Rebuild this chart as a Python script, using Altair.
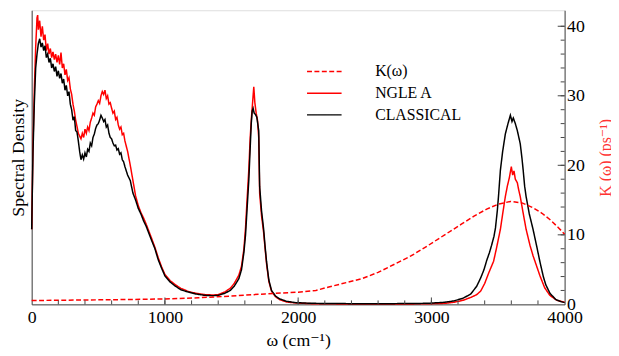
import altair as alt
import pandas as pd

# ---- data ----
omega_classical = [0, 10, 20, 30, 40, 50, 60, 70, 80, 90, 100, 110, 120, 130, 140, 150, 160, 170, 180, 190,
                   200, 210, 220, 230, 240, 250, 260, 270, 280, 290, 300, 310, 320, 330, 340, 350, 360, 370, 380, 390,
                   400, 410, 420, 430, 440, 450, 460, 470, 480, 490, 500, 510, 520, 530, 540, 550, 560, 570, 580, 590,
                   600, 610, 620, 630, 640, 650, 660, 670, 680, 690, 700, 720, 740, 760, 780, 800, 820, 840, 860, 880,
                   900, 925, 950, 975, 1000, 1040, 1080, 1120, 1170, 1230, 1300, 1360, 1400, 1450, 1490, 1520, 1555,
                   1575, 1593, 1605, 1615, 1630, 1640, 1648, 1655, 1662, 1670, 1680, 1690, 1704, 1711, 1725, 1741,
                   1752, 1763, 1780, 1800, 1830, 1860, 1911, 1980, 2100, 2400, 2700, 2970, 3100, 3170, 3240, 3296,
                   3340, 3370, 3395, 3415, 3435, 3452, 3470, 3481, 3495, 3504, 3518, 3535, 3555, 3575, 3593, 3605,
                   3615, 3630, 3645, 3667, 3680, 3689, 3700, 3711, 3735, 3763, 3790, 3815, 3840, 3859, 3890, 3933,
                   3970, 4000]
sd_classical = [10.8, 22, 29, 34, 36, 37.5, 38.2, 37, 37.6, 36.5, 37.2, 35.5, 36, 34.8, 35.4, 34, 34.6, 33.5, 34.2, 32.8,
                33.6, 32.5, 33.2, 31.8, 32.4, 30.8, 31.5, 30, 30.6, 28.8, 28, 26.5, 27, 25, 24.8, 23.5, 22, 20.8, 21.5, 20.9,
                21.8, 21.2, 22.3, 22, 23.2, 22.8, 24, 24.5, 25.3, 25.8, 26, 26.5, 27.2, 26.8, 26.3, 26.6, 25.5, 25.8, 24.6, 24,
                23.8, 23.2, 22.8, 22.9, 22.2, 22.4, 21.6, 21.8, 20.8, 20.5, 19.8, 18.6, 17.8, 16, 15, 13.8, 13, 12, 11.2, 10.2,
                9.2, 8, 6.4, 5.2, 4.1, 3.2, 2.6, 2.1, 1.8, 1.5, 1.3, 1.25, 1.3, 1.6, 2.0, 2.6, 3.7,
                5, 7.5, 10, 13.2, 18, 22.5, 26, 27.8, 28.2, 27.5, 27.3, 26.9, 25, 17, 13.5, 10.8,
                8.3, 6.1, 3.5, 2.0, 1.2, 0.8, 0.45, 0.25, 0.15, 0.1, 0.1, 0.15, 0.3, 0.5, 0.9, 1.5,
                2.6, 3.8, 5, 6.3, 7.4, 8.5, 9.8, 11, 13.5, 15.6, 19.3, 22, 24.5, 26, 27.2, 26.3,
                26.8, 26, 25, 23.1, 21, 19.3, 17, 15.5, 13, 10.8, 8.4, 6.1, 4, 2.8, 1.6, 0.7,
                0.4, 0.25]

omega_ngle = [0, 10, 20, 30, 40, 45, 50, 60, 70, 80, 90, 100, 110, 120, 130, 140, 150, 160, 170, 180, 190,
              200, 210, 220, 230, 240, 250, 260, 270, 280, 290, 300, 310, 320, 330, 340, 350, 360, 370, 380, 390,
              400, 410, 420, 430, 440, 450, 460, 470, 480, 490, 500, 510, 520, 530, 540, 550, 560, 570, 580, 590,
              600, 610, 620, 630, 640, 650, 660, 670, 680, 690, 700, 720, 740, 760, 780, 800, 820, 840, 860, 880,
              900, 925, 950, 975, 1000, 1040, 1080, 1120, 1170, 1230, 1300, 1360, 1400, 1450, 1490, 1520, 1555,
              1575, 1593, 1605, 1615, 1630, 1640, 1650, 1660, 1667, 1675, 1685, 1695, 1704, 1711, 1725, 1741,
              1752, 1763, 1780, 1800, 1830, 1860, 1911, 1980, 2100, 2400, 2700, 2970, 3100, 3170, 3240, 3296,
              3340, 3370, 3400, 3430, 3467, 3490, 3518, 3535, 3555, 3570, 3585, 3600, 3610, 3620, 3630, 3645,
              3655, 3667, 3690, 3711, 3740, 3763, 3790, 3815, 3850, 3889, 3940, 4000]
sd_ngle = [10.8, 23, 31, 37, 41.2, 41.6, 39.5, 40.8, 38.5, 40, 38, 38.8, 36.5, 37.5, 36, 36.8, 35.5, 36.3, 35.2, 36, 34.8,
           35.8, 34.5, 36.2, 34, 34.6, 33, 33.8, 32.2, 32.6, 31, 30.2, 28.8, 27.8, 26.5, 25.6, 24.6, 24.2, 23.8, 24.6, 24,
           25.2, 24.6, 25.5, 25, 26.2, 26.8, 27.5, 27.2, 28.4, 28.8, 29.3, 28.9, 30, 30.6, 30.2, 30.8, 29.6, 30, 28.8, 29,
           28.2, 27.5, 27.8, 26.6, 26.9, 25.8, 25.2, 25.5, 24.4, 24.6, 23.5, 22, 20, 17.8, 15.6, 14.2, 13.2, 12.4, 11.5, 10.5,
           9.5, 8.2, 6.7, 5.4, 4.3, 3.4, 2.8, 2.3, 1.9, 1.6, 1.4, 1.35, 1.4, 1.8, 2.3, 3.0, 4.2,
           5.5, 8, 11, 14.5, 19.5, 24, 27, 29.5, 31.3, 29, 27.5, 26.5, 24, 16, 12.8, 10.3,
           8, 5.8, 3.3, 1.9, 1.1, 0.7, 0.35, 0.2, 0.1, 0.05, 0.05, 0.08, 0.15, 0.3, 0.6, 1.0,
           1.4, 1.9, 3, 4.5, 6.2, 8.2, 10.8, 13, 15.5, 17, 18.2, 19.8, 18.6, 19.2, 18, 17.5,
           16.5, 15.5, 13, 10.8, 8.5, 7, 5.5, 4.1, 2.4, 1.3, 0.6, 0.3]

omega_k = [0, 250, 500, 750, 1000, 1250, 1500, 1750, 2000, 2133, 2230, 2480, 2600, 2726, 2850, 2970, 3100,
           3222, 3320, 3415, 3500, 3593, 3680, 3763, 3830, 3889, 3950, 4000]
k_vals = [0.55, 0.6, 0.65, 0.7, 0.78, 0.95, 1.2, 1.5, 1.75, 2.0, 2.5, 3.7, 4.6, 5.8, 7.0, 8.4, 10.0,
          11.5, 12.7, 13.7, 14.4, 14.8, 14.6, 13.9, 13.1, 12.2, 11.1, 10.1]

series_names = ["K(ω)", "NGLE A", "CLASSICAL"]
series_colors = ["#ff0000", "#ff0000", "#000000"]
series_dash = [[5, 2.5], [1, 0], [1, 0]]

x_labels = [0, 1000, 2000, 3000, 4000]
x_minor = list(range(200, 4000, 200))
x_major = [1000, 2000, 3000]
y_labels = [0, 10, 20, 30, 40]
y_minor = list(range(2, 42, 2))
y_major = [10, 20, 30, 40]

W, H = 540, 298
YMAX = 42.3
SERIF = "Times New Roman, Liberation Serif, DejaVu Serif, serif"

sd_df = pd.concat([
    pd.DataFrame({"omega": omega_ngle, "v": sd_ngle, "series": "NGLE A"}),
    pd.DataFrame({"omega": omega_classical, "v": sd_classical, "series": "CLASSICAL"}),
])
k_df = pd.DataFrame({"omega": omega_k, "v": k_vals, "series": "K(ω)"})

xscale = alt.Scale(domain=[0, 4000], nice=False, zero=False)
yscale = alt.Scale(domain=[0, YMAX], nice=False, zero=False)

color = alt.Color("series:N", scale=alt.Scale(domain=series_names, range=series_colors),
                  legend=alt.Legend(title=None, orient="none", legendX=288.5, legendY=54,
                                    symbolType="M-3.5,0H3.5", symbolSize=100, symbolStrokeWidth=1.5,
                                    labelFont=SERIF, labelFontSize=16, labelColor="black",
                                    labelOffset=43.5, rowPadding=6))
dash = alt.StrokeDash("series:N", scale=alt.Scale(domain=series_names, range=series_dash), legend=None)

x_axis = alt.Axis(title="ω (cm⁻¹)", values=x_labels, format="d", ticks=False, grid=False,
                  labelFont=SERIF, labelFontSize=18, labelColor="black", labelPadding=4,
                  titleFont=SERIF, titleFontSize=18, titleFontWeight="normal", titleColor="black",
                  titlePadding=6, domainColor="#444", labelFlush=False)

sd_lines = alt.Chart(sd_df).mark_line(strokeWidth=1.5).encode(
    x=alt.X("omega:Q", scale=xscale, axis=x_axis),
    y=alt.Y("v:Q", scale=yscale,
            axis=alt.Axis(title="Spectral Density", labels=False, ticks=False, grid=False, domainColor="#444",
                          titleFont=SERIF, titleFontSize=18, titleFontWeight="normal",
                          titleColor="black", titlePadding=4)),
    color=color, strokeDash=dash,
    order=alt.Order("omega:Q"),
)

k_line = alt.Chart(k_df).mark_line(strokeWidth=1.5).encode(
    x=alt.X("omega:Q", scale=xscale, axis=x_axis),
    y=alt.Y("v:Q", scale=yscale,
            axis=alt.Axis(title="K (ω) (ps⁻¹)", orient="right", values=y_labels, format="d",
                          ticks=False, grid=False, domainColor="#444", labelFont=SERIF, labelFontSize=18,
                          labelColor="black", labelPadding=2,
                          titleFont=SERIF, titleFontSize=16, titleFontWeight="normal",
                          titleColor="#ff3333", titleAngle=270, titlePadding=29)),
    color=color, strokeDash=dash,
)

xt_minor = alt.Chart(pd.DataFrame({"t": x_minor})).mark_rule(color="#444", strokeWidth=1).encode(
    x=alt.X("t:Q", scale=xscale, axis=x_axis), y=alt.value(H - 4), y2=alt.value(H))
xt_major = alt.Chart(pd.DataFrame({"t": x_major})).mark_rule(color="#444", strokeWidth=1).encode(
    x=alt.X("t:Q", scale=xscale, axis=x_axis), y=alt.value(H - 7), y2=alt.value(H))
yt_minor = alt.Chart(pd.DataFrame({"t": y_minor})).mark_rule(color="#444", strokeWidth=1).encode(
    y=alt.Y("t:Q", scale=yscale, axis=None), x=alt.value(W - 4), x2=alt.value(W))
yt_major = alt.Chart(pd.DataFrame({"t": y_major})).mark_rule(color="#444", strokeWidth=1).encode(
    y=alt.Y("t:Q", scale=yscale, axis=None), x=alt.value(W - 7), x2=alt.value(W))

chart = alt.layer(sd_lines, k_line, xt_minor, xt_major, yt_minor, yt_major).resolve_scale(
    y="independent"
).properties(
    width=W, height=H,
    autosize=alt.AutoSizeParams(type="none"),
    padding={"left": 24, "top": 0, "right": 47, "bottom": 48},
).configure_view(stroke="#444", strokeWidth=1).configure(background="white")

chart.save("out.html", embed_options={"renderer": "svg", "actions": False})
